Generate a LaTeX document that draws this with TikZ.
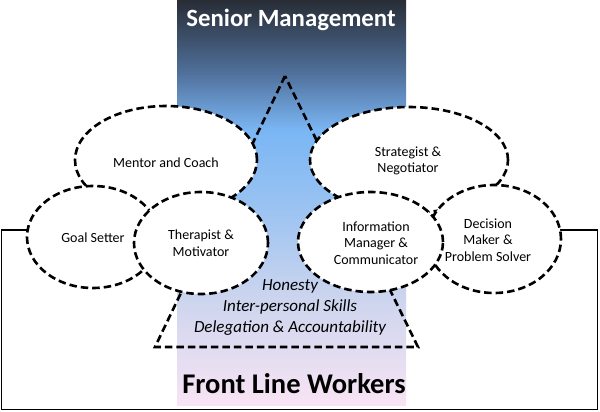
\documentclass[tikz,border=0pt]{standalone}
\usepackage{fontspec}
\setmainfont{Carlito}
\usetikzlibrary{shapes.geometric}
\definecolor{gpink}{RGB}{248,228,244}
\definecolor{glav}{RGB}{205,213,238}
\definecolor{gmid}{RGB}{152,194,242}
\definecolor{gblue}{RGB}{122,182,244}
\definecolor{gsteel}{RGB}{80,112,155}
\definecolor{gdark}{RGB}{40,45,54}
\pgfdeclareverticalshading{mgmt}{100bp}{color(0bp)=(gpink); color(25bp)=(gpink); color(38bp)=(glav); color(50bp)=(gmid); color(59bp)=(gblue); color(66bp)=(gsteel); color(75bp)=(gdark); color(100bp)=(gdark)}
\tikzset{
  dashedline/.style={line width=2.6pt, dash pattern=on 7.5pt off 4pt, black},
  role/.style={ellipse, draw, dashedline, fill=white, inner sep=0pt},
  roletext/.style={font=\fontsize{14}{16.5}\selectfont, align=center, text=black},
  quality/.style={font=\fontsize{17}{21}\selectfont\itshape, align=center},
  bracket/.style={line width=1.2pt, black}
}
\begin{document}
\begin{tikzpicture}[x=1pt,y=-1pt]
\useasboundingbox (0,0) rectangle (600,412);
% bracket behind everything
\coordinate (gin) at (60,230);
\coordinate (bl) at (1.2,230);
\coordinate (bbl) at (1.2,409.5);
\coordinate (bbr) at (597.8,409.5);
\coordinate (br) at (597.8,230);
\coordinate (din) at (530,230);
\draw[bracket] (gin) -- (bl) -- (bbl) -- (bbr) -- (br) -- (din);
% gradient band
\shade[shading=mgmt] (177,0) rectangle (406,405);
\node[text=white, font=\fontsize{24.8}{28}\selectfont\bfseries] (senior) at (291,20) {Senior Management};
\node[text=black, font=\fontsize{28.5}{32}\selectfont\bfseries] (front) at (294,384) {Front Line Workers};
% triangle
\coordinate (apex) at (285,76);
\coordinate (tl) at (155,347);
\coordinate (tr) at (418,347);
\draw[dashedline, line join=miter] (apex) -- (tl) -- (tr) -- cycle;
% ellipses
\node[role, minimum width=182pt, minimum height=108pt] (mentor) at (166,160) {};
\node[role, minimum width=132pt, minimum height=102pt] (goal) at (93,237) {};
\node[role, minimum width=134pt, minimum height=102pt] (therapist) at (201,243) {};
\node[role, minimum width=198pt, minimum height=106pt] (strategist) at (409,160) {};
\node[role, minimum width=134pt, minimum height=108pt] (decision) at (494,239) {};
\node[role, minimum width=145pt, minimum height=100pt] (info) at (370.5,242) {};
% texts
\node[roletext] (tmentor) at (166,163) {Mentor and Coach};
\node[roletext] (tgoal) at (93,238) {Goal Setter};
\node[roletext] (ttherapist) at (201,243) {Therapist \&\\Motivator};
\node[roletext] (tstrategist) at (408,161) {Strategist \&\\Negotiator};
\node[roletext] (tinfo) at (376,243) {Information\\Manager \&\\Communicator};
\node[roletext] (tdecision) at (488,240) {Decision\\Maker \&\\Problem Solver};
\node[quality] (tquality) at (290,308) {Honesty\\Inter-personal Skills\\Delegation \& Accountability};
\end{tikzpicture}
\end{document}
